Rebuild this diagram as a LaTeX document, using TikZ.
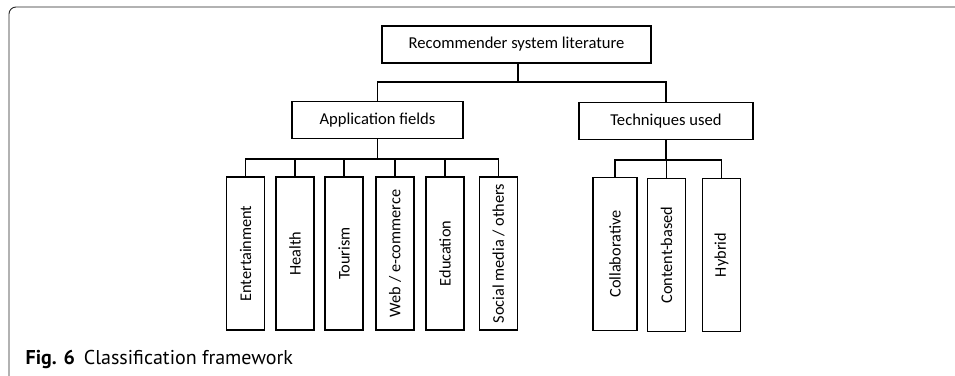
\documentclass[tikz,border=0pt]{standalone}
\usepackage{fontspec}
\setmainfont{Carlito}
\newfontfamily\capfont{PT Sans}
\usetikzlibrary{positioning}

\begin{document}
\begin{tikzpicture}[x=1pt, y=1pt, line width=1.2pt,
    headbox/.style={draw, font=\fontsize{16.6}{18}\selectfont, minimum height=37pt, inner sep=0pt},
    leaf/.style={draw, rotate=90, font=\fontsize{16.3}{18}\selectfont, minimum width=153pt, minimum height=38pt, inner sep=0pt},
    tree/.style={draw, line width=1.2pt}]
          \useasboundingbox (0,0) rectangle (955,-375);

          % outer frame (open to the right and bottom)
          \draw[line width=0.9pt, black!85, rounded corners=7pt] (9,-382) -- (9,-7) -- (962,-7);

          % root
          \node[headbox, minimum width=269pt] (root) at (516.5,-44.5) {Recommender system literature};

          % second row
          \node[headbox, minimum width=171pt] (app) at (377.5,-120) {Application fields};
          \node[headbox, minimum width=174pt] (tech) at (666,-121) {Techniques used};

          % application leaves
          \node[leaf] (ent) at (245.5,-253.5) {Entertainment};
          \node[leaf] (hea) at (295,-253.5) {Health};
          \node[leaf] (tou) at (344,-253.5) {Tourism};
          \node[leaf] (web) at (395,-253.5) {Web / e-commerce};
          \node[leaf] (edu) at (445,-253.5) {Education};
          \node[leaf] (soc) at (498.5,-253.5) {Social media / others};

          % technique leaves
          \node[leaf, minimum height=44pt] (col) at (615,-254) {Collaborative};
          \node[leaf] (con) at (666.5,-255) {Content-based};
          \node[leaf] (hyb) at (721.5,-255) {Hybrid};

          % bus points
          \coordinate (rootbus) at (518,-82);
          \coordinate (appbus) at (377.5,-159);
          \coordinate (techbus) at (666,-160);

          % root to second row
          \draw[tree] (root.south -| rootbus) -- (rootbus);
          \draw[tree] (app.north) |- (rootbus) -| (tech.north);

          % second row to leaves
          \draw[tree] (app.south) -- (appbus);
          \draw[tree] (ent.east) |- (appbus) -| (soc.east);
          \foreach \n in {hea,tou,web,edu}
            \draw[tree] (\n.east) -- (\n.east |- appbus);
          \draw[tree] (tech.south) -- (techbus);
          \draw[tree] (col.east) |- (techbus) -| (hyb.east);
          \draw[tree] (con.east) -- (con.east |- techbus);

          % caption
          \node[anchor=base west, inner sep=0pt, font=\capfont\fontsize{20}{23}\selectfont] (cap) at (25,-364)
            {\textbf{Fig. 6}\hspace{0.45em}Classification framework};
        \end{tikzpicture}
\end{document}
